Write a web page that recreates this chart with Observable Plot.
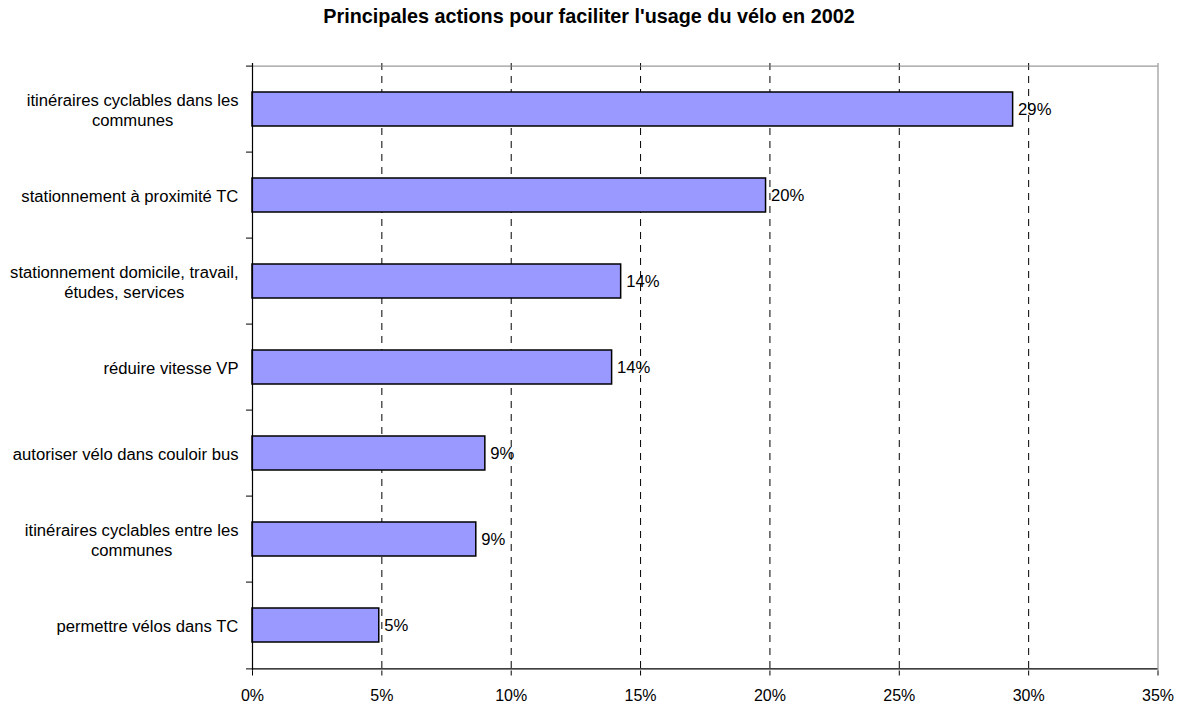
<!DOCTYPE html>
<html><head><meta charset="utf-8">
<script src="https://cdn.jsdelivr.net/npm/d3@7"></script>
<script src="https://cdn.jsdelivr.net/npm/@observablehq/plot@0.6"></script>
<style>
body{margin:0;background:#fff;font-family:"Liberation Sans",Arial,sans-serif;}
#title{width:1178px;height:40px;box-sizing:border-box;padding-top:7px;text-align:center;font-weight:bold;font-size:19.8px;line-height:19.8px;color:#000;white-space:nowrap;}
#chart svg{display:block;}
</style></head><body>
<div id="title"></div>
<div id="chart"></div>
<script>
const title = "Principales actions pour faciliter l'usage du vélo en 2002";
const categories = [
  "itinéraires cyclables dans les communes",
  "stationnement à proximité TC",
  "stationnement domicile, travail, études, services",
  "réduire vitesse VP",
  "autoriser vélo dans couloir bus",
  "itinéraires cyclables entre les communes",
  "permettre vélos dans TC"
];
const labelLines = [
  ["itinéraires cyclables dans les", "communes"],
  ["stationnement à proximité TC"],
  ["stationnement domicile, travail,", "études, services"],
  ["réduire vitesse VP"],
  ["autoriser vélo dans couloir bus"],
  ["itinéraires cyclables entre les", "communes"],
  ["permettre vélos dans TC"]
];
const values = [29.4, 19.85, 14.25, 13.9, 9.0, 8.65, 4.9];
const valueLabels = ["29%", "20%", "14%", "14%", "9%", "9%", "5%"];
const xTicks = [0, 5, 10, 15, 20, 25, 30, 35];
const gridTicks = [5, 10, 15, 20, 25, 30];

document.getElementById("title").textContent = title;

const data = categories.map((c, i) => ({category: c, value: values[i], label: valueLabels[i]}));

const W = 1178, H = 664, mt = 23, mb = 33.5, ml = 252, mr = 20.5;
const step = (H - mt - mb) / categories.length;
const FONT = 16.65;
const ctx = document.createElement("canvas").getContext("2d");
ctx.font = `${FONT}px "Liberation Sans", Arial, sans-serif`;
const labelMarks = categories.map((c, i) => {
  const maxW = Math.max(...labelLines[i].map(l => ctx.measureText(l).width));
  return Plot.text([c], {
    y: d => d, frameAnchor: "left", text: () => labelLines[i].join("\n"),
    textAnchor: "middle", dx: -(14 + maxW / 2), lineHeight: 1.2, fontSize: FONT, fill: "#000"
  });
});

const chart = Plot.plot({
  width: W, height: H,
  marginTop: mt, marginBottom: mb, marginLeft: ml, marginRight: mr,
  style: {fontFamily: '"Liberation Sans", Arial, sans-serif', fontSize: "16px", color: "#000", background: "#fff", overflow: "visible"},
  x: {domain: [xTicks[0], xTicks[xTicks.length - 1]], label: null},
  y: {domain: categories, paddingInner: 0.6, paddingOuter: 0.3, axis: null},
  marks: [
    Plot.ruleX(gridTicks, {stroke: "#000", strokeDasharray: "7,6", strokeWidth: 1}),
    Plot.ruleX([xTicks[xTicks.length - 1]], {stroke: "#808080", strokeWidth: 1}),
    Plot.ruleY([categories[0]], {dy: -step / 2, stroke: "#808080", strokeWidth: 1}),
    Plot.barX(data, {x: "value", y: "category", fill: "#9999FF", stroke: "#000", strokeWidth: 1.5}),
    Plot.ruleX([0], {stroke: "#000", strokeWidth: 1.2}),
    Plot.ruleY([categories[categories.length - 1]], {dy: step / 2, stroke: "#000", strokeWidth: 1.2}),
    Plot.ruleY(categories, {x1: () => 0, x2: () => 0, insetLeft: -6, dy: -step / 2, stroke: "#000"}),
    Plot.ruleY([categories[categories.length - 1]], {x1: () => 0, x2: () => 0, insetLeft: -6, dy: step / 2, stroke: "#000"}),
    Plot.text(data, {x: "value", y: "category", text: "label", textAnchor: "start", dx: 5, fontSize: FONT, fill: "#000"}),
    ...labelMarks,
    Plot.axisX({ticks: xTicks, tickFormat: d => d + "%", tickSize: 5, tickPadding: 14, fontSize: 16})
  ]
});
document.getElementById("chart").appendChild(chart);
</script>
</body></html>
